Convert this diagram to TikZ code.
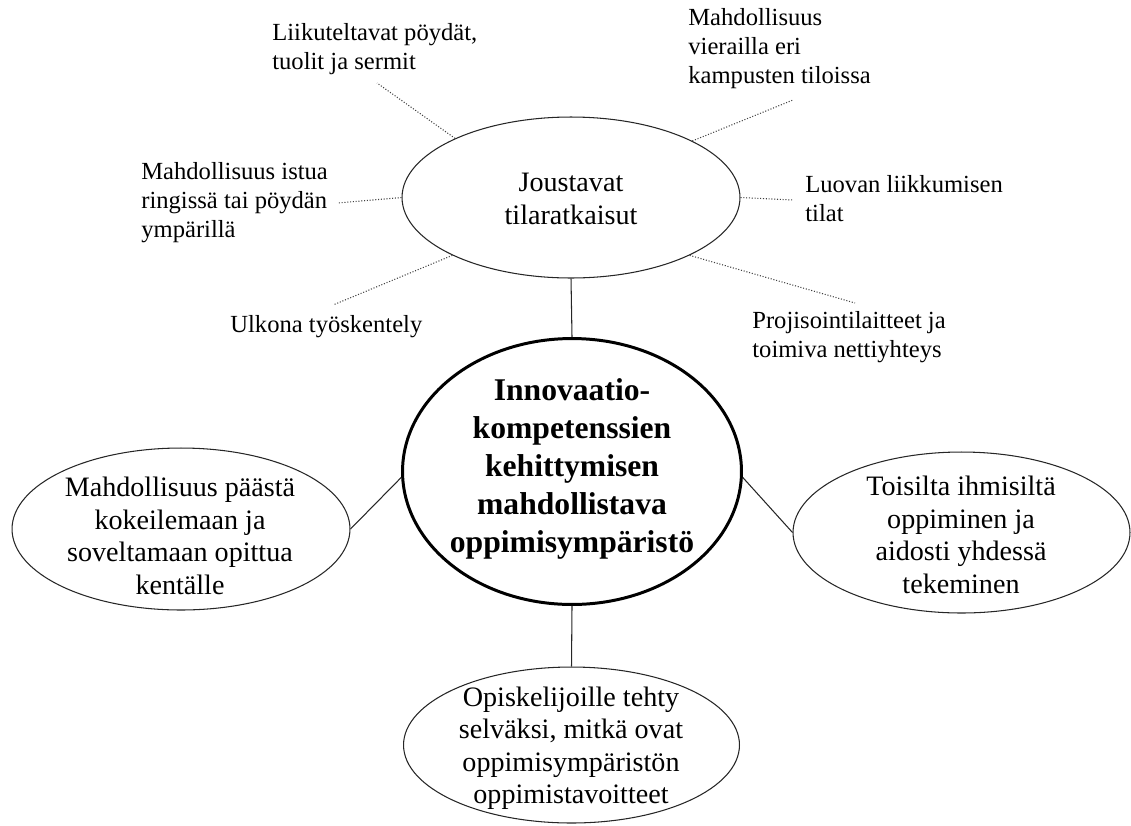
\documentclass[tikz,border=0pt]{standalone}
\usepackage{fontspec}
\setmainfont{Liberation Serif}
\usetikzlibrary{shapes.geometric}
\tikzset{
  bubble/.style={ellipse, draw=black!85, line width=0.6pt, inner sep=0pt},
  core/.style={ellipse, draw=black, line width=1.7pt, inner sep=0pt},
  bubbletext/.style={align=center, inner sep=0pt, font=\fontsize{16}{18.5}\selectfont},
  coretext/.style={align=center, inner sep=0pt, font=\fontsize{18}{21.6}\selectfont\bfseries},
  smalltext/.style={align=left, anchor=west, inner sep=0pt, font=\fontsize{14}{16.5}\selectfont},
  link/.style={draw=black!85, line width=0.6pt},
  dotlink/.style={draw=black!75, line width=0.6pt, densely dotted}
}
\begin{document}
\begin{tikzpicture}[x=0.02cm, y=-0.02cm]
\useasboundingbox (0,0) rectangle (1131,825);

% ellipses
\node[bubble, minimum width=6.76cm, minimum height=3.22cm] (J) at (571,197.5) {};
\node[core, minimum width=6.78cm, minimum height=5.32cm] (C) at (572,471.5) {};
\node[bubble, minimum width=6.76cm, minimum height=3.24cm] (L) at (181,529) {};
\node[bubble, minimum width=6.74cm, minimum height=3.22cm] (R) at (961.5,532.5) {};
\node[bubble, minimum width=6.72cm, minimum height=3.12cm] (B) at (571.5,745) {};

% ellipse texts
\node[bubbletext] (Jt) at (571,199) {Joustavat\\tilaratkaisut};
\node[coretext] (Ct) at (572,469) {Innovaatio-\\kompetenssien\\kehittymisen\\mahdollistava\\oppimisympäristö};
\node[bubbletext] (Lt) at (180,536) {Mahdollisuus päästä\\kokeilemaan ja\\soveltamaan opittua\\kentälle};
\node[bubbletext] (Rt) at (961,535) {Toisilta ihmisiltä\\oppiminen ja\\aidosti yhdessä\\tekeminen};
\node[bubbletext] (Bt) at (571,748) {Opiskelijoille tehty\\selväksi, mitkä ovat\\oppimisympäristön\\oppimistavoitteet};

% solid connectors
\draw[link] (J.south) -- (C.north);
\draw[link] (C.south) -- (B.north);
\draw[link] (L.east) -- (C.182);
\draw[link] (R.west) -- (C.358);

% free ends of dotted lines
\coordinate (d1) at (377,83);
\coordinate (d2) at (338,203);
\coordinate (d3) at (333,305);
\coordinate (d4) at (793,100);
\coordinate (d5) at (793,200);
\coordinate (d6) at (855,303);

\draw[dotlink] (J.153) -- (d1);
\draw[dotlink] (J.west) -- (d2);
\draw[dotlink] (J.206) -- (d3);
\draw[dotlink] (J.25) -- (d4);
\draw[dotlink] (J.east) -- (d5);
\draw[dotlink] (J.-26) -- (d6);

% small labels
\node[smalltext] (s1) at (272,49) {Liikuteltavat pöydät,\\tuolit ja sermit};
\node[smalltext] (s2) at (141,203) {Mahdollisuus istua\\ringissä tai pöydän\\ympärillä};
\node[smalltext] (s3) at (230,327) {Ulkona työskentely};
\node[smalltext] (s4) at (688,49) {Mahdollisuus\\vierailla eri\\kampusten tiloissa};
\node[smalltext] (s5) at (805,199) {Luovan liikkumisen\\tilat};
\node[smalltext] (s6) at (752,337.5) {Projisointilaitteet ja\\toimiva nettiyhteys};
\end{tikzpicture}
\end{document}
